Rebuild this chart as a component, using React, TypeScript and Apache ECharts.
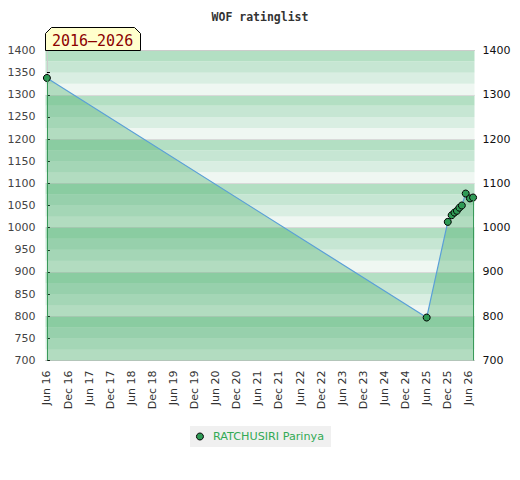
import React, { useEffect, useRef } from "react";
import * as echarts from "echarts";

// Months elapsed since Jun 2016 for each rating point
const MONTHS = [0, 108, 114, 115.1, 115.9, 116.6, 117.3, 118, 119.1, 120.3, 121.2];
const RATINGS = [1338, 797, 1013, 1028, 1034, 1038, 1045, 1050, 1077, 1066, 1068];
const PLAYER = "RATCHUSIRI Parinya";
const TITLE = "WOF ratinglist";
const PERIOD = "2016–2026";
const X_TICK_LABELS = [
  "Jun 16", "Dec 16", "Jun 17", "Dec 17", "Jun 18", "Dec 18", "Jun 19",
  "Dec 19", "Jun 20", "Dec 20", "Jun 21", "Dec 21", "Jun 22", "Dec 22",
  "Jun 23", "Dec 23", "Jun 24", "Dec 24", "Jun 25", "Dec 25", "Jun 26",
];
const X_TICK_STEP = 6;
const Y_MIN = 700;
const Y_MAX = 1400;
const STRIPE_COLORS = ["#eff7f2", "#d9eee2", "#c6e6d3", "#b3dfc3"];

export default function App() {
  const ref = useRef<HTMLDivElement>(null);
  useEffect(() => {
    if (!ref.current) return;
    const chart = echarts.init(ref.current, null, { renderer: "svg" });
    const tickValues = X_TICK_LABELS.map((_, i) => i * X_TICK_STEP);
    const data = MONTHS.map((m, i) => [m, RATINGS[i]]);
    const last = MONTHS.length - 1;
    const baseY = {
      type: "value",
      min: Y_MIN,
      max: Y_MAX,
    };
    chart.setOption({
      animation: false,
      textStyle: { fontFamily: "DejaVu Sans" },
      title: {
        text: TITLE,
        left: "center",
        top: 6,
        textStyle: {
          fontFamily: "DejaVu Sans Mono",
          fontSize: 11.5,
          fontWeight: "bold",
          color: "#333",
        },
      },
      legend: {
        data: [PLAYER],
        left: "center",
        top: 426,
        backgroundColor: "#f0f0f0",
        padding: [5, 7, 5, 6],
        icon: "circle",
        itemWidth: 16,
        itemHeight: 7,
        itemStyle: { color: "#2e9a55", borderColor: "#000", borderWidth: 1 },
        textStyle: { color: "#33aa55", fontSize: 11.2, fontFamily: "DejaVu Sans" },
      },
      grid: { left: 45.5, right: 45.5, top: 50.5, bottom: 119.5, containLabel: false },
      xAxis: [
        {
          type: "value",
          min: -0.4,
          max: 121.6,
          position: "bottom",
          axisLine: { show: true, lineStyle: { color: "#cccccc", width: 1 } },
          axisTick: { show: false, customValues: tickValues },
          splitLine: { show: false },
          axisLabel: {
            customValues: tickValues,
            rotate: 90,
            margin: 10,
            fontSize: 11,
            color: "#333",
            formatter: (v: number) => X_TICK_LABELS[Math.round(v / X_TICK_STEP)] ?? "",
          },
        },
        {
          type: "value",
          min: -0.4,
          max: 121.6,
          position: "top",
          axisLine: { show: true, lineStyle: { color: "#cccccc", width: 1 } },
          axisTick: { show: false },
          axisLabel: { show: false },
          splitLine: { show: false },
        },
      ],
      yAxis: [
        {
          ...baseY,
          position: "left",
          interval: 50,
          axisLine: { show: true, lineStyle: { color: "#cccccc", width: 1 } },
          axisTick: { show: false },
          splitLine: { show: false },
          axisLabel: {
            margin: 10,
            fontSize: 11,
            color: "#444",
            formatter: (v: number) => String(v),
          },
        },
        {
          ...baseY,
          position: "right",
          interval: 50,
          axisLine: { show: true, lineStyle: { color: "#cccccc", width: 1 } },
          axisTick: { show: true, length: 3, lineStyle: { color: "#000" } },
          splitLine: { show: false },
          axisLabel: {
            margin: 8,
            fontSize: 11,
            color: "#111",
            formatter: (v: number) => (v % 100 === 0 ? String(v) : ""),
          },
        },
        {
          ...baseY,
          position: "left",
          interval: 25,
          axisLine: { show: false },
          axisTick: { show: false },
          axisLabel: { show: false },
          splitLine: { show: false },
          splitArea: { show: true, areaStyle: { color: STRIPE_COLORS } },
        },
        {
          ...baseY,
          position: "left",
          interval: 100,
          axisLine: { show: false },
          axisTick: { show: false },
          axisLabel: { show: false },
          splitLine: { show: true, lineStyle: { color: "#d9d9d9", width: 1 } },
        },
      ],
      series: [
        {
          name: PLAYER,
          type: "line",
          xAxisIndex: 0,
          yAxisIndex: 0,
          data,
          symbol: "circle",
          symbolSize: 7,
          itemStyle: { color: "#2e9a55", borderColor: "#000", borderWidth: 1 },
          lineStyle: { color: "#5a9fd8", width: 1.2 },
          areaStyle: { color: "rgba(60,165,95,0.48)", origin: "start" },
          markLine: {
            silent: true,
            symbol: ["none", "none"],
            label: { show: false },
            lineStyle: { color: "#3a9a5a", type: "solid", width: 1 },
            data: [
              [{ coord: [MONTHS[0], Y_MIN] }, { coord: [MONTHS[0], RATINGS[0]] }],
              [{ coord: [MONTHS[last], Y_MIN] }, { coord: [MONTHS[last], RATINGS[last]] }],
            ],
          },
          z: 3,
        },
      ],
      graphic: [
        {
          type: "polygon",
          z: 100,
          shape: {
            points: [
              [45.5, 50.5], [45.5, 33.5], [51.5, 27.5],
              [134.5, 27.5], [140.5, 33.5], [140.5, 50.5],
            ],
          },
          style: { fill: "#ffffcc", stroke: "#000", lineWidth: 1 },
        },
        {
          type: "text",
          z: 101,
          x: 52,
          y: 40,
          scaleY: 1.1,
          style: {
            text: PERIOD,
            fill: "#8b0000",
            fontSize: 15,
            fontFamily: "DejaVu Sans Mono",
            verticalAlign: "middle",
            align: "left",
          },
        },
      ],
    });
    return () => chart.dispose();
  }, []);
  return (
    <div
      ref={ref}
      style={{ position: "fixed", left: 0, top: 0, width: 520, height: 480, background: "#fff" }}
    />
  );
}
